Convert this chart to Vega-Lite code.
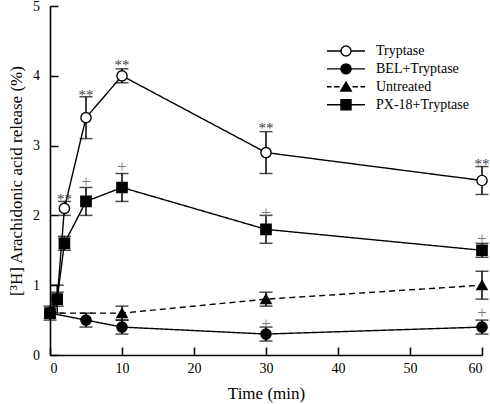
{
  "$schema": "https://vega.github.io/schema/vega-lite/v6.json",
  "width": 432,
  "height": 349,
  "autosize": {"type": "none"},
  "padding": {"left": 50, "top": 6, "right": 8, "bottom": 49},
  "background": "white",
  "config": {
    "view": {"stroke": null}
  },
  "datasets": {
    "series": [
      {"g": "Tryptase", "t": 0, "v": 0.6, "e": 0},
      {"g": "Tryptase", "t": 1, "v": 0.8, "e": 0.2},
      {"g": "Tryptase", "t": 2, "v": 2.1, "e": 0.1},
      {"g": "Tryptase", "t": 5, "v": 3.4, "e": 0.3},
      {"g": "Tryptase", "t": 10, "v": 4.0, "e": 0.1},
      {"g": "Tryptase", "t": 30, "v": 2.9, "e": 0.3},
      {"g": "Tryptase", "t": 60, "v": 2.5, "e": 0.2},
      {"g": "BEL+Tryptase", "t": 0, "v": 0.6, "e": 0},
      {"g": "BEL+Tryptase", "t": 5, "v": 0.5, "e": 0.1},
      {"g": "BEL+Tryptase", "t": 10, "v": 0.4, "e": 0.1},
      {"g": "BEL+Tryptase", "t": 30, "v": 0.3, "e": 0.1},
      {"g": "BEL+Tryptase", "t": 60, "v": 0.4, "e": 0.1},
      {"g": "Untreated", "t": 0, "v": 0.6, "e": 0.1},
      {"g": "Untreated", "t": 10, "v": 0.6, "e": 0.1},
      {"g": "Untreated", "t": 30, "v": 0.8, "e": 0.1},
      {"g": "Untreated", "t": 60, "v": 1.0, "e": 0.2},
      {"g": "PX-18+Tryptase", "t": 0, "v": 0.6, "e": 0},
      {"g": "PX-18+Tryptase", "t": 1, "v": 0.8, "e": 0.1},
      {"g": "PX-18+Tryptase", "t": 2, "v": 1.6, "e": 0.1},
      {"g": "PX-18+Tryptase", "t": 5, "v": 2.2, "e": 0.2},
      {"g": "PX-18+Tryptase", "t": 10, "v": 2.4, "e": 0.2},
      {"g": "PX-18+Tryptase", "t": 30, "v": 1.8, "e": 0.2},
      {"g": "PX-18+Tryptase", "t": 60, "v": 1.5, "e": 0.1}
    ],
    "notes": [
      {"t": 2, "y": 2.24, "s": "**", "k": "a"},
      {"t": 5, "y": 3.73, "s": "**", "k": "a"},
      {"t": 10, "y": 4.16, "s": "**", "k": "a"},
      {"t": 30, "y": 3.25, "s": "**", "k": "a"},
      {"t": 60, "y": 2.73, "s": "**", "k": "a"},
      {"t": 5, "y": 2.48, "s": "+", "k": "p"},
      {"t": 10, "y": 2.69, "s": "+", "k": "p"},
      {"t": 30, "y": 2.03, "s": "+", "k": "p"},
      {"t": 60, "y": 1.66, "s": "+", "k": "p"},
      {"t": 30, "y": 0.45, "s": "+", "k": "p"},
      {"t": 60, "y": 0.6, "s": "+", "k": "p"}
    ]
  },
  "data": {"name": "series"},
  "encoding": {
    "x": {
      "field": "t",
      "type": "quantitative",
      "scale": {"domain": [0, 60], "nice": false, "zero": false},
      "axis": {
        "title": "Time (min)",
        "values": [0, 10, 20, 30, 40, 50, 60],
        "format": "d",
        "grid": false,
        "domainColor": "black",
        "domainWidth": 1.6,
        "tickColor": "black",
        "tickWidth": 1.5,
        "tickSize": -8,
        "labelFont": "Liberation Serif",
        "labelFontSize": 14,
        "labelColor": "black",
        "labelPadding": 14,
        "titleFont": "Liberation Serif",
        "titleFontSize": 17,
        "titleFontWeight": "normal",
        "titleColor": "black",
        "titleY": 43,
        "titleBaseline": "alphabetic"
      }
    },
    "y": {
      "field": "v",
      "type": "quantitative",
      "scale": {"domain": [0, 5], "nice": false},
      "axis": {
        "title": "[³H] Arachidonic acid release (%)",
        "values": [0, 1, 2, 3, 4, 5],
        "format": "d",
        "grid": false,
        "domainColor": "black",
        "domainWidth": 1.6,
        "tickColor": "black",
        "tickWidth": 1.5,
        "tickSize": -8,
        "labelFont": "Liberation Serif",
        "labelFontSize": 14,
        "labelColor": "black",
        "labelPadding": 18.5,
        "titleFont": "Liberation Serif",
        "titleFontSize": 17,
        "titleFontWeight": "normal",
        "titleColor": "black",
        "titleX": -29,
        "titleBaseline": "alphabetic"
      }
    }
  },
  "layer": [
    {
      "mark": {"type": "line", "color": "black", "strokeWidth": 1.4},
      "encoding": {
        "detail": {"field": "g"},
        "strokeDash": {
          "field": "g",
          "type": "nominal",
          "scale": {
            "domain": ["Tryptase", "BEL+Tryptase", "Untreated", "PX-18+Tryptase"],
            "range": [[1, 0], [1, 0], [6, 4], [1, 0]]
          },
          "legend": null
        }
      }
    },
    {
      "transform": [{"filter": "datum.e > 0"}],
      "mark": {
        "type": "errorbar",
        "color": "black",
        "ticks": {"size": 13, "thickness": 1.5, "color": "black"},
        "rule": {"strokeWidth": 1.5, "color": "black"}
      },
      "encoding": {
        "yError": {"field": "e"}
      }
    },
    {
      "mark": {"type": "point", "filled": true, "stroke": "black", "strokeWidth": 1.4, "opacity": 1, "size": 105},
      "encoding": {
        "shape": {
          "field": "g",
          "type": "nominal",
          "scale": {
            "domain": ["Tryptase", "BEL+Tryptase", "Untreated", "PX-18+Tryptase"],
            "range": ["circle", "circle", "triangle-up", "square"]
          },
          "legend": null
        },
        "fill": {
          "field": "g",
          "type": "nominal",
          "scale": {
            "domain": ["Tryptase", "BEL+Tryptase", "Untreated", "PX-18+Tryptase"],
            "range": ["white", "black", "black", "black"]
          },
          "legend": null
        }
      }
    },
    {
      "transform": [{"filter": "false"}],
      "mark": {"type": "point", "filled": true, "stroke": "black", "strokeWidth": 1.4, "opacity": 1, "size": 100},
      "encoding": {
        "shape": {
          "field": "g",
          "type": "nominal",
          "scale": {
            "domain": ["Tryptase", "BEL+Tryptase", "Untreated", "PX-18+Tryptase"],
            "range": [
              "M-3.8,0L-1,0M1,0L3.8,0M-1,0A1,1,0,1,0,1,0A1,1,0,1,0,-1,0Z",
              "M-3.8,0L-1,0M1,0L3.8,0M-1,0A1,1,0,1,0,1,0A1,1,0,1,0,-1,0Z",
              "M-3.8,0L-2.9,0M-2.4,0L-1.3,0M1.3,0L2.4,0M2.9,0L3.8,0M0,-0.95L1.05,0.85L-1.05,0.85Z",
              "M-3.8,0L-1,0M1,0L3.8,0M-1,-1L1,-1L1,1L-1,1Z"
            ]
          },
          "legend": {
            "title": null,
            "orient": "none",
            "legendX": 289,
            "legendY": 38,
            "padding": 0,
            "symbolSize": 100,
            "symbolStrokeWidth": 1.4,
            "labelOffset": 23,
            "rowPadding": 1.9,
            "symbolOpacity": 1,
            "labelFont": "Liberation Serif",
            "labelFontSize": 14,
            "labelColor": "black"
          }
        },
        "fill": {
          "field": "g",
          "type": "nominal",
          "scale": {
            "domain": ["Tryptase", "BEL+Tryptase", "Untreated", "PX-18+Tryptase"],
            "range": ["white", "black", "black", "black"]
          },
          "legend": {
            "title": null,
            "orient": "none",
            "legendX": 289,
            "legendY": 38,
            "padding": 0,
            "symbolSize": 100,
            "symbolStrokeWidth": 1.4,
            "labelOffset": 23,
            "rowPadding": 1.9,
            "symbolOpacity": 1,
            "labelFont": "Liberation Serif",
            "labelFontSize": 14,
            "labelColor": "black"
          }
        }
      }
    },
    {
      "data": {"name": "notes"},
      "mark": {"type": "text", "font": "Liberation Serif", "baseline": "middle", "align": "center"},
      "encoding": {
        "x": {"field": "t", "type": "quantitative"},
        "y": {"field": "y", "type": "quantitative"},
        "text": {"field": "s"},
        "size": {
          "field": "k",
          "type": "nominal",
          "scale": {"domain": ["a", "p"], "range": [15, 17]},
          "legend": null
        },
        "color": {
          "field": "k",
          "type": "nominal",
          "scale": {"domain": ["a", "p"], "range": ["#404040", "#787878"]},
          "legend": null
        }
      }
    }
  ],
  "resolve": {"scale": {"shape": "independent", "fill": "independent"}}
}
